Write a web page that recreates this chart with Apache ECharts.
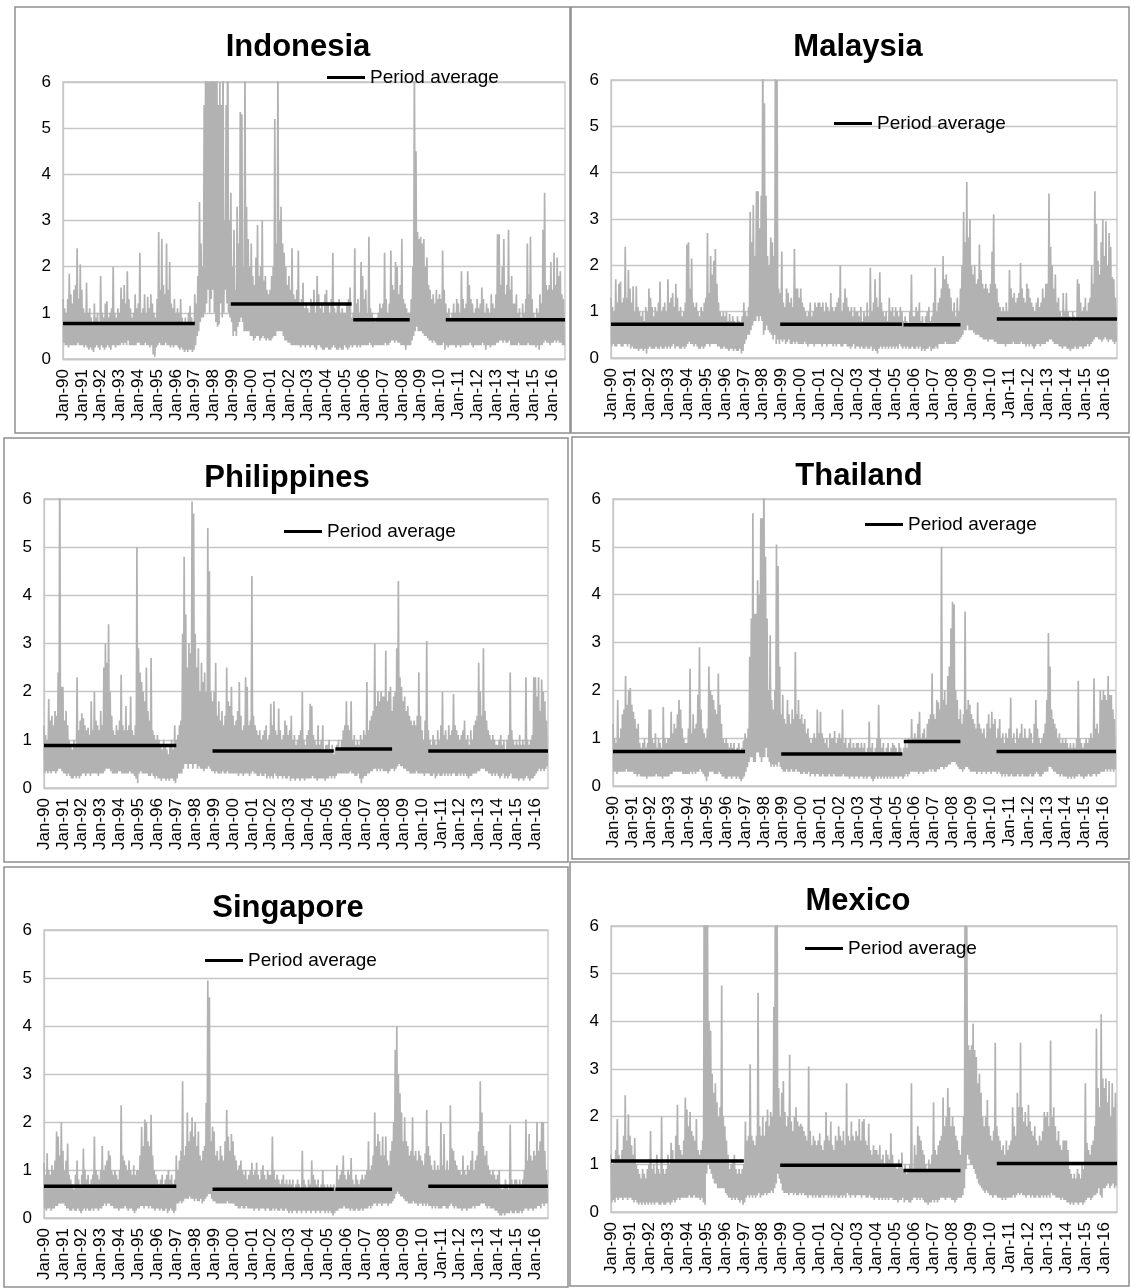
<!DOCTYPE html>
<html>
<head>
<meta charset="utf-8">
<script src="https://cdn.jsdelivr.net/npm/echarts@6/dist/echarts.min.js"></script>
<style>
  html, body { margin: 0; padding: 0; background: #ffffff; }
  #chart { width: 1131px; height: 1288px; }
</style>
</head>
<body>
<div id="chart"></div>
<script>
// Monthly index: 0 = Jan 1990 ... 319 = Aug 2016.
// Each month is drawn as a high reading followed by a low reading.

const yearLabels = ['Jan-90','Jan-91','Jan-92','Jan-93','Jan-94','Jan-95','Jan-96','Jan-97','Jan-98',
  'Jan-99','Jan-00','Jan-01','Jan-02','Jan-03','Jan-04','Jan-05','Jan-06','Jan-07','Jan-08',
  'Jan-09','Jan-10','Jan-11','Jan-12','Jan-13','Jan-14','Jan-15','Jan-16'];

// Sub-periods for the period averages, in month index [start, end]
const periods = [[0, 84], [107, 184], [185, 221], [244, 320]];

// ---------------- Indonesia ----------------
const indonesiaHigh = [
  1.3,1.1,1.0,1.3,1.85,1.4,1.2,1.5,1.6,2.4,1.3,2.05,
  1.5,1.1,1.0,1.65,1.0,1.1,0.9,0.8,1.2,0.9,1.0,0.8,
  1.8,1.0,0.9,1.2,1.25,0.9,1.0,1.1,2.0,1.0,0.9,1.1,
  1.0,1.55,1.3,1.6,1.2,1.9,1.3,1.1,0.9,1.0,1.4,1.1,
  1.2,2.3,1.0,1.1,1.4,1.0,1.35,1.1,1.4,1.2,1.0,0.9,
  1.3,2.75,1.5,2.6,1.6,1.4,2.5,1.5,2.1,1.2,1.1,1.3,
  1.0,1.1,1.0,1.3,0.9,0.8,0.9,0.8,1.0,1.15,0.9,0.8,
  1.4,1.2,1.8,3.4,2.5,2.0,5.5,8,8,6,8,8,
  8,7,8,5.5,6,5.5,7,3.0,5.5,8,3.0,3.6,
  2.0,2.8,1.5,3.3,2.5,5.35,5.3,2.0,6.5,3.3,2.6,2.0,
  2.5,1.8,1.6,2.2,2.9,1.8,2.0,3.0,1.7,1.8,1.5,1.4,
  1.5,1.8,2.0,5.2,2.5,6.5,3.0,3.3,2.5,2.3,2.0,1.6,
  1.8,1.5,2.4,1.4,1.3,1.5,2.35,1.2,1.3,1.65,1.1,1.2,
  1.1,1.0,1.3,1.2,1.5,1.0,1.8,1.4,1.1,1.2,1.0,1.4,
  1.5,1.2,1.0,1.3,2.3,1.1,1.0,1.2,1.3,1.0,1.1,1.0,
  1.0,1.2,1.3,1.55,0.9,1.0,2.4,1.2,1.3,1.0,2.1,1.8,
  1.3,1.5,1.0,2.65,1.1,1.0,0.9,0.8,0.9,1.0,1.2,1.1,
  1.2,2.3,1.3,1.0,1.2,2.35,1.6,1.5,2.1,2.0,1.4,1.6,
  2.6,1.3,1.2,1.1,1.0,1.0,1.3,2.0,6.5,4.5,2.75,2.6,
  2.65,2.5,2.6,2.0,2.2,1.6,1.5,1.3,1.4,1.2,1.5,1.3,
  1.4,1.3,2.35,1.5,1.2,1.0,1.1,0.9,1.0,1.2,1.0,1.3,
  1.2,1.0,1.9,1.3,1.1,1.2,1.9,1.6,1.3,1.2,1.0,1.1,
  1.3,1.1,1.2,1.55,1.3,1.0,1.2,1.1,1.0,1.4,1.2,1.1,
  1.4,2.7,2.7,1.6,2.0,2.6,1.4,1.6,2.8,1.5,1.8,1.2,
  1.2,1.4,1.0,1.1,0.9,1.2,1.0,1.3,2.5,1.4,2.65,1.3,
  1.0,0.9,1.1,1.0,1.4,1.2,2.8,3.6,1.6,1.5,1.6,2.1,
  1.5,2.3,1.6,2.2,1.8,1.9,1.4,1.3
];
const indonesiaLow = [
  0.35,0.3,0.3,0.25,0.3,0.3,0.3,0.3,0.3,0.35,0.3,0.3,
  0.3,0.25,0.3,0.25,0.2,0.25,0.2,0.15,0.25,0.3,0.25,0.2,
  0.3,0.25,0.2,0.25,0.3,0.25,0.2,0.3,0.3,0.25,0.3,0.3,
  0.3,0.35,0.3,0.35,0.3,0.4,0.3,0.3,0.3,0.3,0.3,0.35,
  0.35,0.3,0.3,0.3,0.35,0.3,0.3,0.25,0.3,0.1,0.05,0.25,
  0.3,0.35,0.3,0.3,0.3,0.35,0.3,0.3,0.25,0.3,0.25,0.3,
  0.3,0.25,0.2,0.25,0.2,0.15,0.2,0.15,0.2,0.2,0.15,0.2,
  0.3,0.5,0.6,0.8,0.9,0.9,1.0,1.2,1.5,1.0,1.3,1.5,
  1.0,0.8,0.7,0.75,1.2,0.9,1.0,1.5,1.2,1.0,0.9,0.8,
  0.5,0.6,0.5,0.7,0.8,0.9,0.8,0.6,0.6,0.6,0.6,0.5,
  0.5,0.4,0.45,0.5,0.5,0.4,0.45,0.5,0.45,0.4,0.45,0.4,
  0.4,0.45,0.5,0.5,0.6,0.6,0.6,0.6,0.5,0.4,0.4,0.35,
  0.35,0.3,0.3,0.3,0.3,0.3,0.3,0.25,0.3,0.3,0.25,0.3,
  0.3,0.25,0.3,0.3,0.25,0.2,0.3,0.3,0.25,0.2,0.2,0.25,
  0.25,0.2,0.2,0.25,0.3,0.25,0.2,0.2,0.25,0.2,0.2,0.3,
  0.25,0.2,0.25,0.3,0.25,0.3,0.3,0.25,0.3,0.25,0.3,0.3,
  0.3,0.3,0.3,0.35,0.3,0.25,0.3,0.3,0.3,0.3,0.3,0.3,
  0.3,0.35,0.3,0.3,0.35,0.4,0.4,0.35,0.4,0.35,0.35,0.3,
  0.3,0.3,0.2,0.3,0.3,0.3,0.4,0.5,0.6,0.7,0.6,0.6,
  0.6,0.55,0.5,0.5,0.45,0.4,0.4,0.35,0.4,0.35,0.3,0.3,
  0.3,0.3,0.35,0.2,0.3,0.25,0.3,0.3,0.3,0.3,0.25,0.3,
  0.3,0.25,0.3,0.3,0.3,0.3,0.3,0.35,0.3,0.25,0.3,0.3,
  0.3,0.3,0.3,0.35,0.3,0.2,0.3,0.3,0.25,0.3,0.3,0.3,
  0.35,0.35,0.4,0.4,0.35,0.4,0.35,0.35,0.4,0.3,0.3,0.3,
  0.3,0.3,0.35,0.3,0.3,0.3,0.3,0.3,0.35,0.3,0.3,0.3,
  0.3,0.25,0.3,0.2,0.3,0.3,0.35,0.4,0.35,0.35,0.3,0.35,
  0.35,0.4,0.35,0.4,0.35,0.35,0.3,0.3
];
const indonesiaAvg = [0.77, 1.19, 0.85, 0.85];

// ---------------- Malaysia ----------------
const malaysiaHigh = [
  1.3,1.1,1.0,1.7,1.2,1.6,1.65,1.2,1.3,2.4,1.3,1.9,
  1.5,1.2,1.55,1.0,1.55,1.1,1.0,0.9,1.0,0.8,1.1,1.0,
  1.5,1.3,1.1,0.9,1.1,1.0,1.2,1.65,1.0,1.1,1.2,1.0,
  1.7,1.2,1.3,1.4,1.1,1.6,1.3,1.0,1.1,0.9,1.0,1.2,
  2.45,2.5,1.5,2.15,1.2,1.1,1.2,1.0,0.9,1.1,1.0,1.2,
  1.3,2.7,1.4,2.2,1.8,2.1,2.35,1.6,1.2,1.0,0.9,1.0,
  0.9,1.0,0.8,0.95,0.8,0.9,0.8,0.75,0.9,0.8,0.7,0.9,
  1.2,1.0,0.9,1.1,3.15,2.5,3.3,2.2,3.6,3.6,2.8,3.5,
  7,5.5,3.5,2.2,2.0,2.6,2.5,2.2,7,6,1.5,1.4,
  2.3,1.2,1.1,1.5,1.4,1.2,1.3,1.1,2.35,1.5,1.5,1.3,
  1.5,1.2,1.1,1.0,0.9,1.0,1.2,0.9,1.0,1.2,1.1,1.2,
  1.2,1.1,1.2,1.0,1.2,1.1,1.0,1.4,1.1,1.0,1.1,1.2,
  1.3,2.0,1.0,1.2,1.5,1.3,1.1,1.0,1.1,0.9,1.1,1.0,
  1.0,0.9,1.1,0.8,1.0,0.9,1.2,0.9,1.95,1.0,1.2,1.7,
  1.3,1.1,1.85,1.2,1.0,0.9,1.0,0.8,1.3,1.0,1.1,0.9,
  1.1,1.0,0.9,1.1,1.0,0.8,0.9,0.8,0.7,1.0,1.8,0.9,
  0.9,1.1,1.0,1.2,0.8,0.9,0.7,0.9,1.0,1.1,0.8,0.9,
  1.2,1.95,1.0,1.2,1.3,1.5,2.2,1.7,1.8,1.6,1.5,1.3,
  1.0,1.2,0.9,1.3,1.0,1.5,2.0,3.15,2.5,3.8,2.6,3.0,
  2.0,1.8,2.0,1.6,1.7,2.45,1.9,1.6,1.5,1.6,1.5,1.4,
  1.6,2.3,3.1,1.6,1.5,1.2,1.1,1.0,1.1,1.0,1.2,1.0,
  1.9,1.5,1.3,1.4,1.2,1.3,1.4,2.05,1.5,1.3,1.2,1.6,
  1.5,1.3,1.2,1.1,1.0,1.2,1.3,1.1,1.2,1.5,1.3,1.6,
  1.6,3.55,2.4,2.0,1.5,1.8,1.2,1.3,1.0,0.9,1.4,1.0,
  1.4,1.0,0.9,0.8,1.0,0.9,0.8,1.7,1.6,1.2,1.0,1.1,
  1.3,1.0,1.2,1.3,2.0,1.6,3.6,2.9,2.1,1.8,2.5,3.0,
  2.2,2.95,2.0,2.7,2.4,1.75,1.7,1.3
];
const malaysiaLow = [
  0.25,0.3,0.25,0.25,0.3,0.3,0.25,0.25,0.3,0.3,0.25,0.3,
  0.2,0.25,0.2,0.2,0.2,0.15,0.2,0.2,0.15,0.2,0.1,0.2,
  0.25,0.2,0.2,0.2,0.25,0.2,0.2,0.25,0.2,0.2,0.25,0.2,
  0.25,0.2,0.25,0.3,0.2,0.25,0.25,0.2,0.2,0.25,0.2,0.25,
  0.3,0.35,0.3,0.3,0.25,0.3,0.25,0.2,0.2,0.25,0.2,0.25,
  0.3,0.3,0.25,0.3,0.3,0.3,0.3,0.25,0.25,0.2,0.2,0.25,
  0.2,0.2,0.15,0.2,0.2,0.15,0.2,0.15,0.15,0.2,0.1,0.15,
  0.3,0.4,0.5,0.5,0.6,0.7,0.8,0.8,0.9,0.8,0.9,0.8,
  0.5,0.6,0.7,0.6,0.55,0.5,0.4,0.5,0.3,0.4,0.3,0.4,
  0.35,0.4,0.3,0.35,0.4,0.3,0.3,0.35,0.3,0.35,0.3,0.3,
  0.3,0.3,0.35,0.3,0.25,0.3,0.3,0.3,0.25,0.3,0.3,0.3,
  0.3,0.25,0.3,0.3,0.25,0.3,0.3,0.3,0.25,0.3,0.25,0.3,
  0.3,0.25,0.25,0.3,0.3,0.25,0.25,0.2,0.25,0.3,0.2,0.25,
  0.25,0.2,0.25,0.2,0.2,0.25,0.2,0.2,0.25,0.15,0.2,0.15,
  0.1,0.2,0.25,0.2,0.25,0.2,0.25,0.2,0.25,0.2,0.25,0.2,
  0.25,0.2,0.3,0.25,0.2,0.25,0.2,0.25,0.2,0.2,0.25,0.2,
  0.2,0.25,0.2,0.25,0.15,0.2,0.15,0.2,0.2,0.25,0.15,0.2,
  0.2,0.25,0.2,0.3,0.3,0.3,0.3,0.35,0.3,0.3,0.3,0.3,
  0.3,0.3,0.35,0.35,0.4,0.45,0.5,0.6,0.6,0.7,0.6,0.6,
  0.6,0.55,0.5,0.5,0.5,0.45,0.45,0.4,0.4,0.4,0.35,0.4,
  0.4,0.4,0.35,0.35,0.3,0.3,0.3,0.3,0.3,0.25,0.3,0.3,
  0.3,0.3,0.35,0.3,0.3,0.3,0.3,0.35,0.3,0.3,0.25,0.3,
  0.25,0.3,0.25,0.2,0.25,0.3,0.3,0.25,0.3,0.3,0.3,0.35,
  0.35,0.4,0.4,0.35,0.3,0.3,0.3,0.25,0.25,0.2,0.25,0.25,
  0.2,0.2,0.15,0.2,0.2,0.25,0.2,0.2,0.25,0.25,0.2,0.25,
  0.25,0.3,0.25,0.3,0.35,0.4,0.45,0.45,0.4,0.4,0.35,0.4,
  0.45,0.4,0.35,0.4,0.4,0.35,0.3,0.35
];
const malaysiaAvg = [0.73, 0.73, 0.72, 0.84];

// ---------------- Philippines ----------------
const philippinesHigh = [
  1.3,1.1,1.0,1.85,1.4,1.5,1.3,1.6,1.5,2.4,7,2.1,
  2.1,1.4,1.6,1.3,1.0,0.9,0.8,1.0,0.9,2.3,1.2,1.4,
  1.55,1.45,1.3,1.2,1.25,1.1,1.8,1.2,2.0,1.4,1.3,1.2,
  1.6,1.3,2.5,3.0,2.6,3.4,2.0,1.5,1.2,1.1,1.3,1.2,
  1.4,2.35,1.3,1.2,1.7,1.2,1.3,1.9,1.2,1.1,1.3,5.0,
  2.9,2.4,2.2,2.0,1.8,2.5,1.6,1.4,2.7,1.2,1.1,1.0,
  1.1,1.0,0.9,0.8,1.0,0.9,0.8,0.7,0.9,1.0,0.8,1.3,
  1.0,1.1,1.3,1.4,3.2,4.8,3.6,2.5,3.0,2.8,5.95,5.7,
  3.2,2.5,2.9,2.0,2.6,2.2,2.4,2.0,5.4,4.5,2.0,1.8,
  2.0,2.6,1.5,1.8,1.4,1.6,1.3,1.5,2.5,1.8,1.7,2.1,
  1.5,1.3,1.4,1.6,2.2,1.5,1.2,1.3,2.3,2.1,1.3,1.4,
  4.4,1.5,1.3,1.2,1.1,1.2,1.0,1.1,1.2,1.3,1.0,1.1,
  1.75,1.3,1.8,1.2,1.1,1.65,1.2,1.0,1.1,1.4,1.3,1.1,
  1.2,1.5,1.0,1.1,0.9,1.0,1.1,1.2,2.0,1.0,0.9,1.1,
  1.2,1.75,1.7,1.1,1.0,0.9,1.3,0.9,1.0,1.3,0.8,0.9,
  0.9,1.0,0.8,0.9,0.7,0.8,0.9,1.0,0.8,1.0,1.2,1.3,
  1.8,1.3,1.2,1.8,1.0,1.1,0.9,1.0,0.9,1.1,1.0,1.2,
  1.1,2.2,1.2,1.4,1.5,1.6,3.0,1.7,2.0,1.8,2.0,1.9,
  1.9,2.85,1.8,2.0,2.1,1.6,1.9,2.0,2.9,4.3,2.3,2.1,
  1.8,1.9,1.6,1.7,1.5,1.4,1.3,1.4,1.3,1.5,2.4,1.5,
  1.2,1.0,1.4,3.05,1.2,1.0,0.9,1.1,1.0,0.9,1.2,1.0,
  1.3,2.0,1.1,1.2,1.0,1.3,1.1,1.2,1.95,1.3,1.2,1.1,
  1.0,1.1,1.2,1.4,1.0,1.1,0.9,1.2,1.0,1.3,1.4,1.5,
  2.6,2.0,1.5,2.9,1.6,1.4,1.2,1.1,1.0,1.1,1.0,0.9,
  0.9,1.0,1.1,0.9,1.0,0.8,1.0,1.1,2.4,1.2,1.0,0.9,
  1.0,0.9,1.1,0.9,1.0,0.9,2.3,1.0,0.9,1.0,1.1,2.3,
  2.3,1.9,2.3,1.6,2.25,2.0,1.8,1.4
];
const philippinesLow = [
  0.3,0.35,0.3,0.35,0.3,0.35,0.35,0.3,0.35,0.4,0.4,0.35,
  0.3,0.3,0.25,0.3,0.25,0.2,0.2,0.25,0.2,0.25,0.2,0.25,
  0.3,0.3,0.25,0.3,0.3,0.25,0.3,0.3,0.3,0.3,0.25,0.3,
  0.3,0.3,0.35,0.4,0.4,0.4,0.35,0.3,0.3,0.3,0.3,0.35,
  0.35,0.3,0.3,0.3,0.3,0.3,0.35,0.3,0.3,0.25,0.2,0.1,
  0.3,0.35,0.3,0.3,0.3,0.3,0.25,0.25,0.3,0.25,0.2,0.25,
  0.2,0.2,0.15,0.2,0.2,0.15,0.2,0.15,0.2,0.2,0.15,0.1,
  0.2,0.3,0.3,0.3,0.4,0.5,0.5,0.4,0.5,0.5,0.4,0.5,
  0.5,0.4,0.45,0.4,0.4,0.35,0.4,0.4,0.45,0.4,0.35,0.35,
  0.3,0.35,0.3,0.3,0.3,0.35,0.3,0.3,0.35,0.3,0.3,0.3,
  0.3,0.3,0.3,0.25,0.3,0.3,0.25,0.3,0.3,0.3,0.25,0.3,
  0.35,0.3,0.3,0.25,0.25,0.3,0.25,0.25,0.3,0.2,0.25,0.2,
  0.25,0.2,0.3,0.25,0.2,0.25,0.25,0.2,0.25,0.2,0.2,0.25,
  0.15,0.2,0.2,0.15,0.2,0.2,0.15,0.2,0.2,0.15,0.2,0.2,
  0.2,0.2,0.25,0.2,0.2,0.15,0.2,0.2,0.2,0.2,0.15,0.2,
  0.2,0.25,0.2,0.25,0.2,0.25,0.3,0.3,0.3,0.3,0.3,0.3,
  0.3,0.3,0.35,0.3,0.3,0.25,0.25,0.3,0.2,0.1,0.2,0.25,
  0.25,0.3,0.3,0.35,0.35,0.4,0.4,0.35,0.4,0.35,0.4,0.35,
  0.35,0.35,0.3,0.35,0.4,0.4,0.35,0.4,0.45,0.5,0.45,0.45,
  0.4,0.4,0.35,0.35,0.3,0.3,0.3,0.3,0.35,0.3,0.3,0.3,
  0.3,0.25,0.3,0.3,0.3,0.25,0.25,0.3,0.2,0.25,0.3,0.25,
  0.25,0.3,0.25,0.3,0.25,0.3,0.25,0.3,0.3,0.25,0.25,0.3,
  0.25,0.3,0.25,0.3,0.25,0.2,0.25,0.25,0.3,0.3,0.3,0.35,
  0.35,0.4,0.4,0.4,0.35,0.35,0.3,0.3,0.25,0.3,0.25,0.3,
  0.25,0.2,0.25,0.3,0.2,0.25,0.2,0.25,0.3,0.2,0.2,0.2,
  0.2,0.15,0.2,0.2,0.15,0.2,0.25,0.2,0.15,0.2,0.2,0.25,
  0.3,0.35,0.4,0.35,0.4,0.35,0.4,0.45
];
const philippinesAvg = [0.88, 0.77, 0.81, 0.77];

// ---------------- Thailand ----------------
const thailandHigh = [
  1.3,1.0,0.9,1.8,1.0,1.2,1.5,1.6,2.3,1.7,2.0,2.05,
  1.7,1.55,1.4,1.2,1.3,0.9,0.8,0.9,1.0,0.8,0.9,1.6,
  1.6,1.0,0.9,1.1,0.8,1.0,0.9,0.8,1.65,1.0,0.9,1.0,
  1.0,1.55,1.1,1.3,1.2,1.5,1.8,1.6,1.2,1.0,0.9,0.9,
  1.2,2.45,1.1,1.5,1.2,1.3,1.9,2.9,1.6,1.2,1.1,1.0,
  1.2,2.5,2.0,1.9,1.8,1.6,1.5,2.35,1.7,1.3,1.0,0.9,
  1.0,0.9,0.8,0.9,0.8,0.9,0.7,0.8,0.9,0.7,0.8,0.95,
  1.1,1.0,1.2,2.7,3.5,5.7,3.6,3.6,4.3,4.0,5.6,5.6,
  7,4.8,3.5,2.0,3.15,1.8,1.6,2.0,5.05,4.6,2.5,1.5,
  1.9,1.4,1.3,1.8,1.5,1.3,1.6,1.4,2.8,1.5,1.8,1.4,
  1.5,1.3,1.4,1.1,1.2,1.0,0.9,1.0,1.1,1.0,1.6,1.1,
  1.55,1.1,1.0,0.9,1.0,0.8,1.1,1.0,1.0,1.15,0.9,1.0,
  1.1,1.0,1.6,0.9,1.0,0.8,0.9,1.0,0.8,0.9,0.8,0.9,
  0.9,0.8,0.9,0.8,0.9,0.7,0.8,1.35,0.8,0.9,0.7,0.8,
  1.0,1.7,1.0,0.8,0.9,0.7,0.8,0.9,0.7,0.8,0.9,0.85,
  0.8,0.7,0.9,0.8,0.7,0.8,0.9,0.8,1.0,0.9,1.4,1.0,
  1.1,1.0,1.3,1.55,1.0,1.1,1.2,1.0,1.3,1.4,1.5,2.35,
  1.5,1.4,1.8,1.75,1.6,5.0,1.8,2.0,1.7,2.3,2.5,3.3,
  3.85,3.8,2.0,1.8,1.4,1.6,1.3,1.5,3.65,1.6,1.8,1.7,
  1.5,1.4,1.3,1.2,1.75,1.3,1.2,1.1,1.2,1.0,1.3,1.5,
  1.2,1.55,1.3,1.4,1.0,1.2,1.4,1.0,1.1,0.9,1.1,1.0,
  1.2,1.85,1.0,1.1,0.9,1.2,1.0,1.1,1.3,1.0,1.2,1.0,
  1.0,1.2,1.1,0.9,1.3,1.8,1.2,1.0,0.9,1.0,1.1,1.3,
  1.8,3.2,2.5,1.6,1.4,1.3,1.2,1.0,1.1,0.9,1.0,0.9,
  1.0,0.9,0.8,0.9,0.8,0.9,0.8,1.0,2.2,1.0,0.9,0.8,
  0.9,1.0,0.9,1.0,1.1,1.0,2.25,1.2,1.3,1.1,2.0,1.8,
  2.0,1.9,1.8,2.3,1.9,1.9,1.6,1.4
];
const thailandLow = [
  0.3,0.3,0.25,0.3,0.3,0.3,0.3,0.3,0.35,0.3,0.3,0.3,
  0.3,0.25,0.25,0.2,0.25,0.2,0.2,0.2,0.2,0.15,0.2,0.2,
  0.2,0.2,0.2,0.25,0.2,0.2,0.2,0.15,0.2,0.2,0.2,0.2,
  0.25,0.25,0.3,0.3,0.3,0.3,0.3,0.3,0.25,0.25,0.25,0.25,
  0.25,0.3,0.25,0.3,0.25,0.3,0.3,0.35,0.3,0.25,0.2,0.1,
  0.2,0.3,0.3,0.3,0.25,0.25,0.25,0.3,0.25,0.2,0.2,0.15,
  0.15,0.2,0.2,0.15,0.2,0.2,0.15,0.2,0.15,0.1,0.15,0.2,
  0.3,0.4,0.5,0.6,0.6,0.5,0.5,0.7,0.7,0.6,0.5,0.6,
  0.6,0.8,0.6,0.5,0.4,0.45,0.4,0.45,0.4,0.5,0.4,0.35,
  0.3,0.3,0.35,0.3,0.3,0.35,0.3,0.3,0.35,0.3,0.3,0.25,
  0.25,0.3,0.25,0.25,0.3,0.2,0.25,0.25,0.2,0.25,0.25,0.2,
  0.2,0.25,0.2,0.2,0.2,0.25,0.2,0.2,0.25,0.2,0.2,0.2,
  0.2,0.2,0.25,0.2,0.2,0.2,0.15,0.2,0.2,0.15,0.2,0.2,
  0.15,0.2,0.2,0.15,0.2,0.15,0.2,0.2,0.15,0.1,0.15,0.2,
  0.15,0.2,0.15,0.2,0.15,0.2,0.15,0.2,0.15,0.2,0.15,0.2,
  0.2,0.15,0.2,0.2,0.15,0.2,0.25,0.2,0.25,0.3,0.3,0.3,
  0.3,0.3,0.25,0.3,0.3,0.25,0.3,0.3,0.3,0.35,0.3,0.35,
  0.3,0.3,0.35,0.35,0.4,0.4,0.35,0.4,0.4,0.45,0.45,0.5,
  0.5,0.5,0.45,0.4,0.35,0.35,0.3,0.35,0.4,0.4,0.35,0.3,
  0.3,0.3,0.3,0.25,0.3,0.3,0.25,0.3,0.3,0.25,0.3,0.3,
  0.25,0.3,0.3,0.3,0.25,0.3,0.25,0.2,0.25,0.2,0.25,0.2,
  0.2,0.25,0.2,0.2,0.2,0.25,0.2,0.2,0.25,0.2,0.2,0.2,
  0.2,0.25,0.2,0.2,0.25,0.3,0.25,0.2,0.2,0.25,0.3,0.3,
  0.3,0.4,0.4,0.35,0.3,0.3,0.25,0.25,0.2,0.25,0.2,0.2,
  0.2,0.15,0.2,0.15,0.2,0.15,0.2,0.2,0.25,0.2,0.2,0.15,
  0.2,0.2,0.25,0.2,0.2,0.25,0.25,0.2,0.25,0.25,0.3,0.3,
  0.3,0.35,0.3,0.35,0.3,0.35,0.3,0.35
];
const thailandAvg = [0.72, 0.67, 0.93, 0.72];

// ---------------- Singapore ----------------
const singaporeHigh = [
  1.15,0.9,1.35,1.0,0.9,1.1,1.0,1.2,1.8,1.7,1.3,2.0,
  1.4,1.0,1.2,1.55,0.9,0.8,0.7,0.6,0.9,1.2,0.8,0.7,
  0.9,1.45,1.0,0.8,0.9,0.7,0.8,0.9,1.7,1.0,0.9,0.8,
  1.0,1.5,1.0,1.1,1.2,1.4,1.3,1.0,0.9,1.0,0.9,0.8,
  1.0,2.35,1.3,1.2,1.1,1.0,1.2,1.0,0.9,1.1,0.9,1.0,
  1.0,1.3,1.9,1.5,2.05,2.0,1.6,1.5,2.15,1.3,1.0,0.9,
  0.8,0.7,0.8,0.9,0.7,0.8,0.9,1.0,0.8,0.9,0.7,0.8,
  1.3,1.0,1.2,1.4,2.85,1.3,1.5,2.2,1.6,1.8,2.1,1.7,
  2.0,1.5,1.8,1.3,1.2,1.4,1.5,2.4,4.95,4.6,1.6,1.9,
  1.8,1.3,1.4,1.2,1.5,1.3,1.2,1.6,2.25,1.7,1.4,1.75,
  1.6,1.3,1.2,1.0,1.1,1.2,1.0,0.9,1.0,0.8,0.9,1.0,
  1.15,0.9,1.0,1.15,0.9,0.8,1.0,1.1,0.9,0.8,1.0,0.9,
  0.9,1.7,1.0,0.8,0.9,0.8,0.7,0.8,0.9,0.7,0.8,0.7,
  0.8,0.7,0.8,0.6,0.7,0.8,0.7,0.6,1.4,0.8,0.7,0.6,
  0.8,0.7,1.2,0.9,0.8,0.7,0.8,0.6,0.7,1.0,0.7,0.6,
  0.7,0.6,0.7,0.6,0.7,0.6,1.1,0.8,0.9,1.0,1.3,0.9,
  0.8,1.0,0.9,1.25,0.8,0.7,0.9,0.8,0.7,0.8,0.9,0.8,
  0.9,1.0,1.6,1.0,1.1,1.3,2.2,1.5,1.75,1.6,1.3,1.7,
  1.3,1.7,1.2,1.1,1.4,1.6,2.0,3.5,4.0,3.0,2.6,2.2,
  1.6,2.1,1.6,1.5,1.3,1.4,2.1,1.3,1.4,1.2,1.4,1.3,
  1.2,1.1,1.35,2.25,1.5,1.3,1.1,1.0,1.2,1.0,1.1,1.0,
  2.0,1.1,1.75,1.0,1.2,1.0,2.35,1.45,1.4,1.2,1.1,1.0,
  1.0,0.9,1.3,1.0,0.9,1.1,1.0,1.2,1.4,1.0,1.2,1.3,
  1.8,2.85,2.2,1.5,1.3,1.4,1.1,1.0,0.9,1.0,0.9,0.8,
  0.9,1.0,0.7,0.6,0.7,0.8,0.7,0.6,1.95,0.8,0.7,0.8,
  0.8,0.7,0.8,0.7,0.8,1.0,2.05,1.2,1.75,1.3,1.2,1.4,
  1.3,2.0,1.4,1.6,2.0,2.0,1.4,1.0
];
const singaporeLow = [
  0.2,0.15,0.2,0.2,0.15,0.2,0.2,0.25,0.25,0.3,0.3,0.3,
  0.3,0.25,0.2,0.2,0.15,0.15,0.2,0.15,0.15,0.2,0.15,0.1,
  0.15,0.2,0.15,0.2,0.15,0.15,0.2,0.15,0.2,0.2,0.15,0.2,
  0.2,0.25,0.3,0.25,0.3,0.3,0.25,0.25,0.2,0.2,0.2,0.15,
  0.2,0.2,0.2,0.25,0.2,0.15,0.2,0.2,0.15,0.1,0.15,0.2,
  0.2,0.25,0.25,0.2,0.25,0.25,0.2,0.25,0.2,0.2,0.15,0.2,
  0.2,0.15,0.2,0.15,0.15,0.2,0.1,0.15,0.2,0.15,0.1,0.15,
  0.3,0.3,0.35,0.3,0.35,0.4,0.4,0.4,0.45,0.4,0.4,0.35,
  0.4,0.35,0.35,0.4,0.3,0.35,0.4,0.45,0.5,0.5,0.4,0.35,
  0.35,0.3,0.3,0.3,0.3,0.3,0.3,0.3,0.35,0.3,0.3,0.3,
  0.3,0.25,0.25,0.2,0.2,0.25,0.2,0.2,0.25,0.2,0.2,0.2,
  0.2,0.15,0.2,0.2,0.15,0.2,0.2,0.2,0.15,0.2,0.2,0.15,
  0.15,0.2,0.15,0.2,0.15,0.15,0.2,0.15,0.15,0.2,0.15,0.1,
  0.15,0.1,0.15,0.15,0.1,0.15,0.15,0.1,0.15,0.15,0.1,0.15,
  0.15,0.1,0.15,0.15,0.1,0.15,0.15,0.1,0.15,0.15,0.1,0.15,
  0.1,0.15,0.1,0.05,0.1,0.15,0.15,0.2,0.2,0.2,0.25,0.2,
  0.2,0.2,0.15,0.2,0.15,0.15,0.2,0.15,0.15,0.2,0.15,0.2,
  0.2,0.2,0.25,0.2,0.25,0.3,0.3,0.25,0.3,0.3,0.25,0.3,
  0.3,0.3,0.25,0.3,0.3,0.35,0.4,0.5,0.55,0.5,0.45,0.45,
  0.4,0.35,0.35,0.3,0.3,0.3,0.35,0.3,0.3,0.25,0.3,0.3,
  0.25,0.3,0.25,0.3,0.25,0.25,0.2,0.25,0.2,0.25,0.2,0.2,
  0.2,0.25,0.25,0.2,0.2,0.25,0.3,0.25,0.2,0.25,0.2,0.2,
  0.2,0.15,0.2,0.2,0.15,0.2,0.2,0.2,0.25,0.2,0.25,0.25,
  0.25,0.3,0.3,0.3,0.25,0.2,0.25,0.2,0.2,0.2,0.15,0.15,
  0.1,0.05,0.05,0.1,0.05,0.1,0.1,0.1,0.15,0.1,0.1,0.15,
  0.1,0.1,0.15,0.1,0.15,0.2,0.2,0.15,0.2,0.2,0.15,0.2,
  0.2,0.25,0.25,0.2,0.3,0.25,0.3,0.3
];
const singaporeAvg = [0.66, 0.60, 0.60, 0.66];

// ---------------- Mexico ----------------
const mexicoHigh = [
  1.2,1.0,1.1,1.3,1.95,1.2,1.1,1.3,1.6,2.45,1.5,2.05,
  1.6,1.4,1.2,1.55,1.0,0.9,0.8,0.7,0.9,0.8,0.7,0.9,
  1.0,1.7,0.9,1.0,0.8,1.2,0.9,0.8,2.0,0.9,0.8,0.9,
  1.2,1.0,1.45,1.3,1.1,1.6,2.25,1.4,1.3,1.2,1.5,2.4,
  2.15,1.8,2.1,1.7,1.6,1.5,1.95,1.3,1.2,1.3,1.5,8,
  8,6.5,4.0,3.8,2.9,2.5,2.7,2.3,2.0,2.2,4.75,2.0,
  1.8,1.5,1.2,0.9,1.0,1.1,1.2,0.9,0.8,0.9,0.8,0.9,
  1.0,1.9,1.5,1.6,3.1,1.6,1.5,1.4,1.6,4.6,1.8,1.6,
  2.0,1.6,1.9,2.15,1.8,2.1,2.0,4.3,8,7,2.6,2.0,
  2.5,2.75,2.1,1.8,2.0,3.3,1.9,1.7,2.0,2.2,1.9,1.8,
  1.85,1.8,1.7,1.6,1.5,3.05,1.7,1.4,1.6,1.5,1.4,1.5,
  1.65,1.4,1.3,1.5,2.1,1.6,1.5,1.9,1.4,1.3,1.6,1.5,
  1.8,1.6,1.5,1.7,1.4,2.7,1.6,1.5,1.9,1.6,1.5,1.7,
  1.6,1.95,1.5,1.9,1.95,1.5,1.4,1.85,1.3,1.2,1.4,1.3,
  1.3,1.2,1.4,1.1,1.2,1.0,1.3,1.2,1.1,1.65,1.2,1.0,
  1.0,0.9,1.1,1.0,1.25,0.9,1.0,0.8,0.9,1.0,2.7,0.9,
  1.4,1.2,1.8,1.6,1.5,1.3,1.2,1.0,0.9,1.1,1.0,1.2,
  2.3,1.3,1.2,1.4,1.5,1.6,2.4,1.8,2.0,2.6,2.2,1.8,
  2.0,1.8,1.6,1.5,1.3,1.2,1.6,2.0,8,6,3.5,3.4,
  3.5,3.95,3.4,3.25,2.7,2.9,2.5,2.0,1.8,2.0,2.35,1.8,
  1.6,1.5,1.7,3.55,1.8,1.6,1.5,1.3,1.4,1.2,1.5,1.3,
  1.4,1.5,2.2,1.8,1.6,2.5,2.2,3.55,2.2,1.9,2.1,1.8,
  2.25,1.9,1.7,1.6,1.8,1.5,1.4,1.6,1.5,1.7,2.1,2.0,
  2.1,1.8,3.6,2.0,2.2,1.8,1.5,1.7,1.4,1.3,1.5,1.5,
  1.5,1.3,0.9,0.8,0.7,0.8,0.7,0.9,0.8,0.7,1.0,0.9,
  2.7,1.45,1.3,1.2,1.4,1.5,1.8,3.85,2.6,2.2,4.15,2.8,
  2.6,2.8,2.3,2.75,2.0,2.7,2.2,2.5
];
const mexicoLow = [
  0.2,0.25,0.2,0.3,0.25,0.3,0.3,0.25,0.3,0.3,0.25,0.3,
  0.3,0.25,0.2,0.25,0.2,0.15,0.2,0.15,0.2,0.15,0.2,0.15,
  0.2,0.15,0.2,0.15,0.2,0.2,0.15,0.15,0.2,0.15,0.15,0.2,
  0.2,0.15,0.2,0.25,0.2,0.25,0.3,0.25,0.3,0.3,0.3,0.3,
  0.3,0.35,0.3,0.3,0.35,0.3,0.3,0.3,0.25,0.3,0.2,0.15,
  0.8,1.0,0.9,0.8,0.7,0.6,0.6,0.5,0.5,0.5,0.5,0.5,
  0.4,0.35,0.3,0.3,0.25,0.3,0.25,0.3,0.25,0.2,0.25,0.15,
  0.2,0.3,0.35,0.3,0.35,0.3,0.35,0.3,0.35,0.4,0.3,0.35,
  0.35,0.4,0.35,0.4,0.4,0.45,0.4,0.5,0.6,0.8,0.7,0.6,
  0.45,0.4,0.4,0.4,0.35,0.4,0.4,0.35,0.4,0.35,0.35,0.4,
  0.35,0.4,0.35,0.35,0.3,0.35,0.35,0.3,0.35,0.3,0.35,0.3,
  0.3,0.35,0.3,0.35,0.35,0.3,0.35,0.3,0.35,0.3,0.35,0.3,
  0.3,0.35,0.3,0.35,0.3,0.4,0.35,0.3,0.35,0.35,0.3,0.35,
  0.35,0.35,0.3,0.35,0.35,0.3,0.3,0.35,0.3,0.3,0.25,0.3,
  0.3,0.25,0.3,0.25,0.3,0.25,0.3,0.25,0.3,0.3,0.25,0.25,
  0.25,0.2,0.25,0.25,0.3,0.2,0.25,0.25,0.2,0.2,0.25,0.3,
  0.3,0.25,0.3,0.25,0.3,0.25,0.2,0.2,0.15,0.2,0.2,0.25,
  0.2,0.25,0.2,0.25,0.3,0.3,0.3,0.25,0.3,0.3,0.3,0.25,
  0.25,0.2,0.25,0.3,0.3,0.3,0.35,0.5,0.9,1.2,1.1,1.0,
  1.0,0.9,0.8,0.7,0.6,0.55,0.5,0.45,0.4,0.45,0.4,0.35,
  0.35,0.3,0.35,0.35,0.3,0.3,0.3,0.25,0.3,0.25,0.3,0.3,
  0.3,0.3,0.35,0.3,0.35,0.4,0.35,0.4,0.35,0.35,0.3,0.35,
  0.35,0.3,0.35,0.3,0.3,0.35,0.3,0.3,0.35,0.3,0.35,0.3,
  0.35,0.3,0.4,0.35,0.35,0.3,0.3,0.3,0.25,0.3,0.25,0.25,
  0.2,0.2,0.15,0.2,0.15,0.2,0.2,0.15,0.2,0.2,0.15,0.2,
  0.25,0.3,0.3,0.25,0.3,0.35,0.35,0.4,0.5,0.35,0.3,0.5,
  0.5,0.55,0.6,0.5,0.55,0.6,0.5,0.55
];
const mexicoAvg = [1.07, 0.98, 0.87, 1.02];

// ---------------- Panel placement ----------------
const panels = [
  { title: 'Indonesia',   high: indonesiaHigh,   low: indonesiaLow,   avg: indonesiaAvg,
    box: [15, 7, 555, 426],   grid: [63, 82, 502, 277],  titleAt: [298, 47],  legendAt: [327, 77] },
  { title: 'Malaysia',    high: malaysiaHigh,    low: malaysiaLow,    avg: malaysiaAvg,
    box: [571, 7, 558, 426],  grid: [611, 80, 506, 278], titleAt: [858, 47],  legendAt: [834, 123] },
  { title: 'Philippines', high: philippinesHigh, low: philippinesLow, avg: philippinesAvg,
    box: [4, 438, 564, 424],  grid: [44, 499, 504, 289], titleAt: [287, 478], legendAt: [284, 531] },
  { title: 'Thailand',    high: thailandHigh,    low: thailandLow,    avg: thailandAvg,
    box: [572, 437, 557, 422], grid: [613, 499, 503, 287], titleAt: [859, 476], legendAt: [865, 524] },
  { title: 'Singapore',   high: singaporeHigh,   low: singaporeLow,   avg: singaporeAvg,
    box: [4, 867, 564, 420],  grid: [44, 930, 504, 288], titleAt: [288, 908], legendAt: [205, 960] },
  { title: 'Mexico',      high: mexicoHigh,      low: mexicoLow,      avg: mexicoAvg,
    box: [570, 862, 559, 424], grid: [611, 926, 506, 286], titleAt: [858, 901], legendAt: [805, 948] }
];

const FONT = '"Liberation Sans", Arial, Helvetica, sans-serif';
const GREY = '#b2b2b2';
const GRIDLINE = '#c6c6c6';

function monthlyPath(high, low) {
  const pts = [];
  for (let m = 0; m < high.length; m++) {
    pts.push([m, high[m]]);
    pts.push([m + 0.5, low[m]]);
  }
  return pts;
}

const option = {
  animation: false,
  backgroundColor: '#ffffff',
  title: [], legend: [], grid: [], xAxis: [], yAxis: [], series: [],
  graphic: []
};

panels.forEach((p, i) => {
  const [bx, by, bw, bh] = p.box;
  option.graphic.push({
    type: 'rect', silent: true, z: -10,
    shape: { x: bx, y: by, width: bw, height: bh },
    style: { fill: 'none', stroke: '#8e8e8e', lineWidth: 1.5 }
  });

  option.title.push({
    text: p.title, left: p.titleAt[0], top: p.titleAt[1] - 15, textAlign: 'center', padding: 0,
    textStyle: { fontFamily: FONT, fontSize: 31, fontWeight: 'bold', color: '#000' }
  });

  option.legend.push({
    left: p.legendAt[0], top: p.legendAt[1] - 9, padding: 0,
    data: [{ name: 'Period average', icon: 'rect' }],
    itemWidth: 38, itemHeight: 3, itemGap: 0,
    selectedMode: false,
    textStyle: { fontFamily: FONT, fontSize: 19, color: '#000', padding: [0, 0, 0, 0] }
  });

  const [gl, gt, gw, gh] = p.grid;
  option.grid.push({
    left: gl, top: gt, width: gw, height: gh,
    show: true, borderColor: GRIDLINE, borderWidth: 1.3, backgroundColor: 'transparent'
  });

  option.xAxis.push({
    type: 'value', gridIndex: i, min: 0, max: 320, interval: 12,
    axisLine: { show: true, lineStyle: { color: GRIDLINE, width: 1.3 } },
    axisTick: { show: false },
    splitLine: { show: false },
    axisLabel: {
      rotate: 90, margin: 10, fontFamily: FONT, fontSize: 17, color: '#000',
      showMaxLabel: false,
      formatter: v => yearLabels[Math.round(v / 12)] || ''
    }
  });

  option.yAxis.push({
    type: 'value', gridIndex: i, min: 0, max: 6, interval: 1,
    axisLine: { show: true, lineStyle: { color: GRIDLINE, width: 1.3 } },
    axisTick: { show: false },
    splitLine: { show: true, lineStyle: { color: GRIDLINE, width: 1.3 } },
    axisLabel: { margin: 12, fontFamily: FONT, fontSize: 17, color: '#000' }
  });

  option.series.push({
    name: p.title, type: 'line', xAxisIndex: i, yAxisIndex: i,
    data: monthlyPath(p.high, p.low),
    showSymbol: false, symbol: 'none', clip: true, z: 2,
    lineStyle: { color: GREY, width: 1.7 },
    itemStyle: { color: GREY }
  });

  periods.forEach((seg, k) => {
    option.series.push({
      name: 'Period average', type: 'line', xAxisIndex: i, yAxisIndex: i,
      data: [[seg[0], p.avg[k]], [Math.min(seg[1], 320), p.avg[k]]],
      showSymbol: false, symbol: 'none', z: 5,
      lineStyle: { color: '#000', width: 3.5 },
      itemStyle: { color: '#000' }
    });
  });
});

const chart = echarts.init(document.getElementById('chart'), null, { renderer: 'canvas' });
chart.setOption(option);
</script>
</body>
</html>
